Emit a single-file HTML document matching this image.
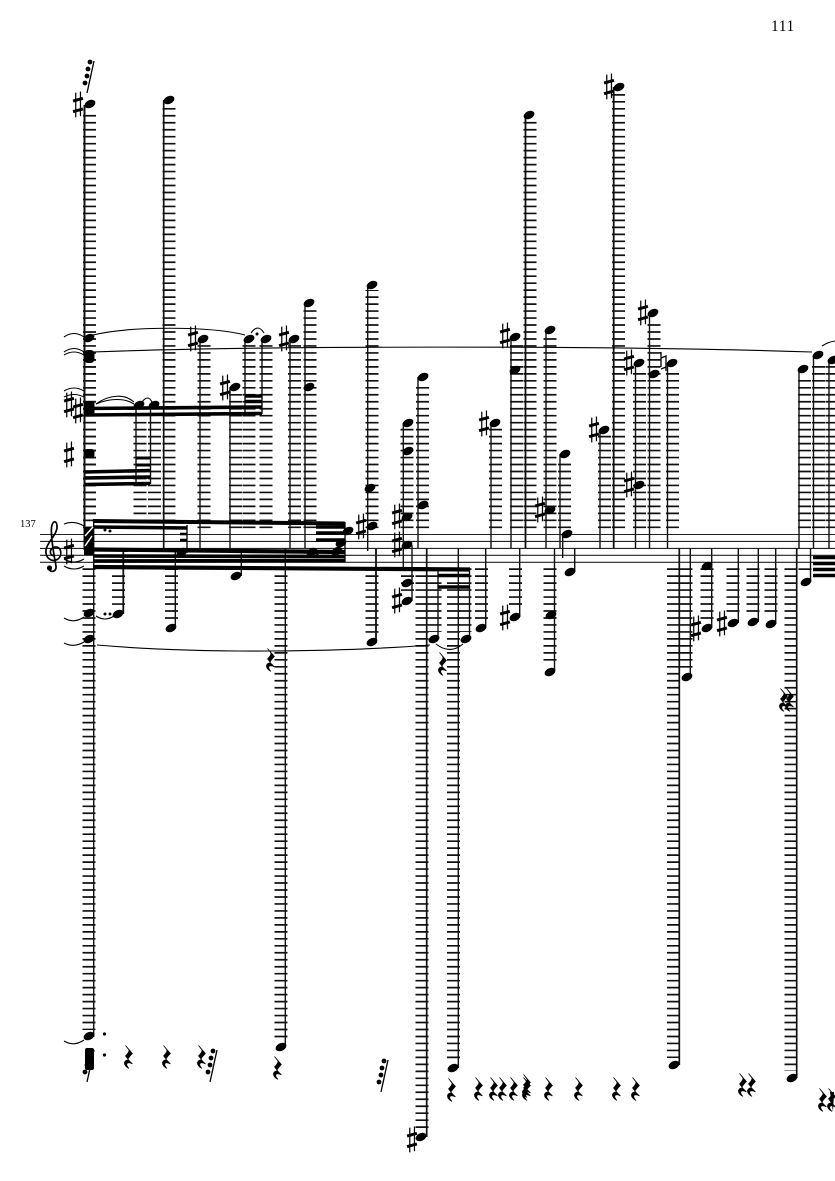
<!DOCTYPE html>
<html><head><meta charset="utf-8"><style>
html,body{margin:0;padding:0;background:#fff}
svg{display:block}
.s path{fill:none;stroke:#111;stroke-width:1.4}
.lu path,.ld path{fill:none;stroke:#111;stroke-width:13;stroke-dasharray:1.7 5.275}
.b path{fill:none;stroke:#000;stroke-width:3.6}
.t path{fill:none;stroke:#000;stroke-width:1.1}
text{font-family:"Liberation Serif",serif;fill:#000}
</style></head><body>
<svg width="835" height="1181" viewBox="0 0 835 1181" xmlns="http://www.w3.org/2000/svg">
<defs>
<ellipse id="n" rx="5.7" ry="3.8" transform="rotate(-25)"/>
<g id="h" stroke="#000" transform="scale(1.12)"><path d="M-2-11V11M2.2-12V10" stroke-width="1.1" fill="none"/><path d="M-4.4-3.5L4.4-6M-4.4 6L4.4 3.5" stroke-width="2.7" fill="none"/></g>
<path id="r" transform="scale(1.15)" stroke="#000" stroke-width=".6" d="M-3-10L3-3Q0 0-1 2L3 6Q-1 4-2 6Q-2 8 0 10Q-4 8-4 5Q-3 2 0 3L-3-1Q0-4 0-6Z"/>
<g id="g"><path d="M0 0L7-32" stroke="#000" stroke-width="1.3" fill="none"/><circle cx="3" cy="-31" r="2.4"/><circle cx="1" cy="-24" r="2.4"/><circle cx="0" cy="-17" r="2.4"/><circle cx="-2" cy="-10" r="2.4"/></g>
</defs>
<rect width="835" height="1181" fill="#fff"/>
<text x="771" y="31" font-size="15.5" letter-spacing=".6">111</text>
<text x="20" y="527" font-size="10.5">137</text>
<g stroke="#222" stroke-width="1.1" fill="none"><path d="M40 534.5H835M40 541.4H835M40 548.4H835M40 555.3H835M40 562.3H835"/></g>
<path d="M54 556C49 555 49 548 55 547C61 546 63 555 58 559C52 563 45 558 46 550C47 542 57 535 57 527C57 521 54 520 52 525C50 531 53 550 56 566C57 573 48 573 49 567" fill="none" stroke="#000" stroke-width="1.7"/><circle cx="49.5" cy="568" r="2.6"/>
<use href="#h" x="69" y="552"/>
<g class="lu">
<path d="M89.5 528.15V110"/><path d="M89.5 528.15V360" stroke-width="13" stroke-dasharray="2.6 4.375"/><path d="M169 528.15V107"/><path d="M140 528.15V421"/><path d="M154.5 528.15V421"/><path d="M204 528.15V345"/><path d="M235.5 528.15V394"/><path d="M249 528.15V345"/><path d="M266 528.15V345"/><path d="M294.5 528.15V345"/><path d="M310 528.15V310"/><path d="M372 528.15V290"/><path d="M407 528.15V427"/><path d="M422.5 528.15V382"/><path d="M495.5 528.15V428"/><path d="M516.5 528.15V343"/><path d="M530 528.15V121"/><path d="M550 528.15V336"/><path d="M564.5 528.15V459"/><path d="M604.5 528.15V435"/><path d="M618.5 528.15V93"/><path d="M639.5 528.15V369"/><path d="M654 528.15V319"/><path d="M672.5 528.15V369"/><path d="M804.5 528.15V375"/><path d="M818.5 528.15V361"/><path d="M832 528.15V365"/>
</g>
<g class="ld">
<path d="M89 568.3V1030"/><path d="M118.5 575.3V606"/><path d="M171.5 568.3V620"/><path d="M281 568.3V1040"/><path d="M372 568.3V635"/><path d="M407.5 568.3V596"/><path d="M422 568.3V1130"/><path d="M435 568.3V632"/><path d="M453.5 568.3V1061"/><path d="M465 568.3V632"/><path d="M481.5 568.3V620"/><path d="M515.5 568.3V610"/><path d="M550 568.3V665"/><path d="M673.5 568.3V1058"/><path d="M686 568.3V670"/><path d="M707 568.3V620"/><path d="M733 568.3V616"/><path d="M753 568.3V616"/><path d="M771 568.3V616"/><path d="M791 568.3V1071"/><path d="M805 568.3V575"/>
</g>
<g class="s">
<path d="M84.5 105V550" style="stroke-width:2"/><path d="M93.7 522V1037"/><path d="M163.7 100V548" style="stroke-width:1.7"/><path d="M136 405V484"/><path d="M150.5 405V484"/><path d="M200 339V548"/><path d="M230 387V548"/><path d="M245 339V414"/><path d="M262 339V414"/><path d="M290 339V548"/><path d="M305 303V548"/><path d="M367.7 285V551"/><path d="M403.3 423V568"/><path d="M412 545V601"/><path d="M418 377V548"/><path d="M426.7 548V1137" style="stroke-width:1.7"/><path d="M438 568V639"/><path d="M469.5 568V639"/><path d="M458.3 548V1068"/><path d="M485.7 548V628"/><path d="M519.7 548V617"/><path d="M491 423V548"/><path d="M511 337V548"/><path d="M525.5 115V548" style="stroke-width:1.8"/><path d="M546 330V548"/><path d="M560 454V548"/><path d="M562.7 534V558"/><path d="M574.7 548V572"/><path d="M554.5 548V671"/><path d="M600 430V548"/><path d="M613.7 87V548" style="stroke-width:1.8"/><path d="M635.5 363V548"/><path d="M649.5 313V548"/><path d="M667.5 363V548"/><path d="M679.3 548V1065" style="stroke-width:1.7"/><path d="M690.3 548V677"/><path d="M711.7 548V628"/><path d="M738.3 548V623"/><path d="M758.3 548V622"/><path d="M775.7 548V624"/><path d="M796.7 548V1078" style="stroke-width:1.7"/><path d="M810.5 548V582"/><path d="M799 369V548"/><path d="M813.5 355V548"/><path d="M829 359V548"/><path d="M123.3 548V614" style="stroke-width:1.8"/><path d="M175.3 548V628"/><path d="M187 525V553"/><path d="M241.3 553V576"/><path d="M285.3 548V1047"/><path d="M345 522V562"/><path d="M376 548V643" style="stroke-width:1.8"/>
</g>
<g class="b">
<path d="M85 408.5L262 407"/><path d="M85 415L262 413.5"/><path d="M245 396H262"/><path d="M245 401.5H262"/>
<path d="M85 472L150 470.5"/><path d="M85 478L150 477"/><path d="M85 484.5L150 483.5"/><path d="M136 458H150" style="stroke-width:3"/><path d="M136 465H150" style="stroke-width:3"/>
<path d="M93 521L345 523.5" style="stroke-width:4"/><path d="M93 527L187 528"/><path d="M180 534H187" style="stroke-width:2.6"/><path d="M180 540H187" style="stroke-width:2.6"/>
<path d="M316 527H345"/><path d="M316 533H345"/><path d="M316 540H345"/>
<path d="M93 549.5L345 552" style="stroke-width:4.2"/><path d="M93 556L345 556.5"/><path d="M93 561L345 560.5"/><path d="M93 567L470 569.5" style="stroke-width:4.2"/>
<path d="M438 575.5H470"/><path d="M438 587H470"/>
<path d="M813 557.5H835"/><path d="M813 563.5H835"/><path d="M813 569.5H835"/><path d="M813 575.5H835"/>
</g>
<rect x="84" y="527" width="9.5" height="28" fill="#000"/><path d="M85 536L93 527M85 546L92 536" stroke="#fff" stroke-width="1.5"/>
<rect x="84" y="350" width="10.5" height="13" rx="4" fill="#000"/>
<rect x="84" y="401" width="10.5" height="15" rx="3" fill="#000"/>
<rect x="84" y="449" width="10.5" height="9" rx="3" fill="#000"/>
<g>
<use href="#n" x="89" y="338"/><use href="#n" x="89" y="613"/><use href="#n" x="89" y="639"/><use href="#n" x="89" y="1036"/><use href="#n" x="90" y="104"/>
<use href="#n" x="169" y="100"/><use href="#n" x="139" y="405"/><use href="#n" x="154" y="405"/><use href="#n" x="203" y="339"/><use href="#n" x="235" y="387"/><use href="#n" x="249" y="339"/><use href="#n" x="266" y="339"/><use href="#n" x="294" y="339"/><use href="#n" x="309" y="303"/><use href="#n" x="309" y="387"/>
<use href="#n" x="372" y="285"/><use href="#n" x="370" y="488"/><use href="#n" x="372" y="526"/>
<use href="#n" x="408" y="423"/><use href="#n" x="408" y="451"/><use href="#n" x="407" y="517"/><use href="#n" x="407" y="545"/><use href="#n" x="407" y="583"/><use href="#n" x="407" y="601"/>
<use href="#n" x="423" y="377"/><use href="#n" x="423" y="505"/><use href="#n" x="348" y="531"/>
<use href="#n" x="434" y="639"/><use href="#n" x="466" y="639"/><use href="#n" x="453" y="1068"/><use href="#n" x="481" y="628"/><use href="#n" x="515" y="617"/><use href="#n" x="421" y="1137"/>
<use href="#n" x="495" y="423"/><use href="#n" x="515" y="337"/><use href="#n" x="515" y="370"/><use href="#n" x="529" y="115"/><use href="#n" x="550" y="330"/><use href="#n" x="550" y="510"/><use href="#n" x="565" y="454"/><use href="#n" x="567" y="534"/><use href="#n" x="570" y="572"/><use href="#n" x="551" y="615"/><use href="#n" x="550" y="672"/>
<use href="#n" x="604" y="430"/><use href="#n" x="619" y="87"/><use href="#n" x="639" y="363"/><use href="#n" x="639" y="485"/><use href="#n" x="653" y="313"/><use href="#n" x="654" y="374"/><use href="#n" x="672" y="363"/>
<use href="#n" x="674" y="1065"/><use href="#n" x="687" y="677"/><use href="#n" x="707" y="566"/><use href="#n" x="707" y="628"/><use href="#n" x="733" y="623"/><use href="#n" x="753" y="622"/><use href="#n" x="771" y="624"/><use href="#n" x="792" y="1078"/><use href="#n" x="806" y="582"/><use href="#n" x="803" y="369"/><use href="#n" x="818" y="355"/><use href="#n" x="833" y="360"/>
<use href="#n" x="118" y="614"/><use href="#n" x="171" y="628"/><use href="#n" x="182" y="552"/><use href="#n" x="236" y="576"/><use href="#n" x="281" y="1047"/><use href="#n" x="372" y="642"/><use href="#n" x="312" y="552"/><use href="#n" x="337" y="551"/><use href="#n" x="341" y="543"/>
</g>
<g>
<use href="#h" x="78" y="105"/><use href="#h" x="69" y="405"/><use href="#h" x="78" y="411"/><use href="#h" x="69" y="455"/><use href="#h" x="193" y="339"/><use href="#h" x="225" y="388"/><use href="#h" x="284" y="339"/><use href="#h" x="361" y="527"/><use href="#h" x="397" y="517"/><use href="#h" x="397" y="545"/><use href="#h" x="397" y="601"/><use href="#h" x="412" y="1140"/><use href="#h" x="484" y="424"/><use href="#h" x="505" y="336"/><use href="#h" x="505" y="618"/><use href="#h" x="540" y="510"/><use href="#h" x="594" y="430"/><use href="#h" x="609" y="87"/><use href="#h" x="629" y="363"/><use href="#h" x="629" y="485"/><use href="#h" x="643" y="313"/><use href="#h" x="696" y="629"/><use href="#h" x="722" y="624"/>
</g>
<path d="M661 352V367M661 358L666 356V367L661 369M666 356V371" fill="none" stroke="#000" stroke-width="1.3"/>
<g class="t">
<path d="M92 352C250 346 600 345 812 352"/><path d="M93 335C130 326 210 326 245 335"/><path d="M96 404C110 394 125 394 134 402"/><path d="M96 404C110 398 125 398 134 404"/><path d="M142 402Q148 394 152 402"/><path d="M251 333Q258 323 264 333"/><path d="M97 645C200 654 340 652 430 645"/><path d="M436 644Q450 655 463 644"/><path d="M96 616Q105 622 114 616"/><path d="M822 346Q828 342 835 341"/><path d="M315 553Q325 560 336 553"/>
<path d="M64 337Q74 330 84 337"/><path d="M64 352Q74 345 84 352"/><path d="M64 355Q74 349 84 355"/><path d="M64 391Q74 385 84 391"/><path d="M64 397Q74 392 84 397"/><path d="M64 524Q74 520 84 526"/><path d="M64 559Q74 565 84 559"/><path d="M64 566Q74 572 84 566"/><path d="M64 618Q74 624 84 617"/><path d="M64 643Q74 648 84 642"/><path d="M64 1041Q74 1047 84 1040"/>
</g>
<g>
<use href="#r" x="271" y="660"/><use href="#r" x="443" y="664"/><use href="#r" x="129" y="1057"/><use href="#r" x="167" y="1057"/><use href="#r" x="202" y="1057"/><use href="#r" x="278" y="1068"/><use href="#r" x="452" y="1090"/><use href="#r" x="479" y="1089"/><use href="#r" x="494" y="1089"/><use href="#r" x="503" y="1089"/><use href="#r" x="514" y="1089"/><use href="#r" x="527" y="1089"/><use href="#r" x="527" y="1086"/><use href="#r" x="549" y="1089"/><use href="#r" x="579" y="1089"/><use href="#r" x="617" y="1089"/><use href="#r" x="636" y="1089"/><use href="#r" x="743" y="1085"/><use href="#r" x="752" y="1085"/><use href="#r" x="784" y="700"/><use href="#r" x="790" y="700"/><use href="#r" x="823" y="1100"/><use href="#r" x="832" y="1100"/>
<use href="#g" x="87" y="93"/><use href="#g" x="210" y="1082"/><use href="#g" x="381" y="1092"/><use href="#g" x="87" y="1082"/>
<rect x="85" y="1048" width="9" height="22" rx="2"/>
<path d="M830 1092L834 1092L833 1112Z" fill="#000"/>
<circle cx="105" cy="530" r="1.5"/><circle cx="110" cy="531" r="1.5"/><circle cx="105" cy="614" r="1.5"/><circle cx="110" cy="614" r="1.5"/><circle cx="104.5" cy="1034" r="1.6"/><circle cx="104.5" cy="1055" r="1.6"/><circle cx="257" cy="334" r="1.5"/>
</g>
</svg>
</body></html>
